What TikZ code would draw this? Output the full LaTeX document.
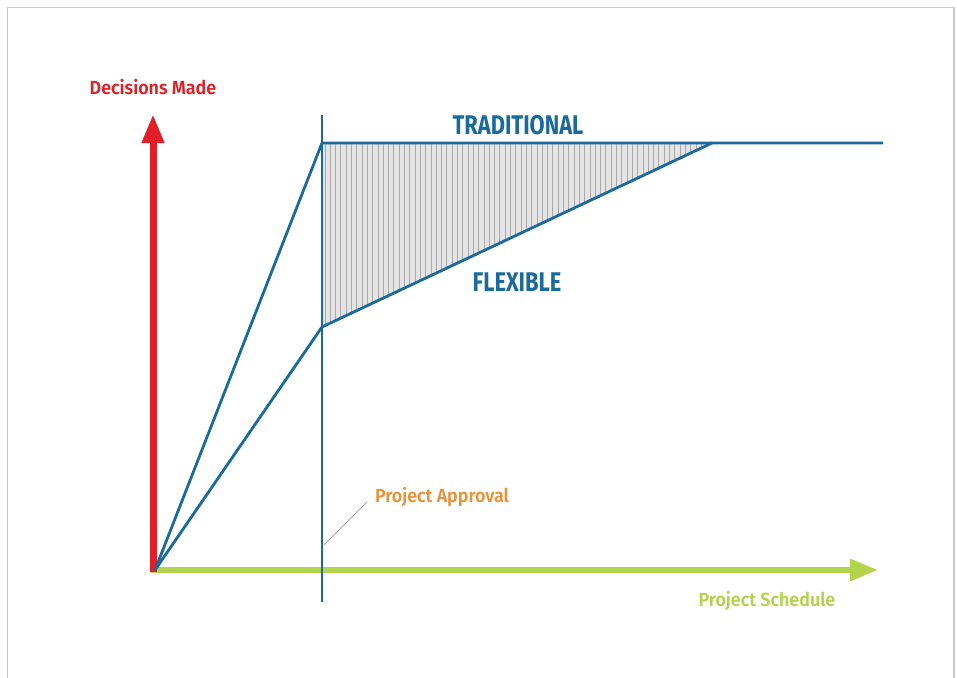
\documentclass[tikz,border=0pt]{standalone}
\usepackage{fontspec}
\setmainfont{Fira Sans}
\newfontfamily\labelfont[FakeStretch=0.94]{Fira Sans SemiBold}
\newfontfamily\curvefont[FakeStretch=0.81]{Fira Sans}
\usetikzlibrary{arrows.meta}

\definecolor{axisred}{HTML}{E31E26}
\definecolor{axisgreen}{HTML}{B2D34B}
\definecolor{curveblue}{HTML}{1A6A9C}
\definecolor{approvalorange}{HTML}{E8923A}
\definecolor{framegray}{HTML}{C9C9C9}
\definecolor{hatchfill}{HTML}{E4E4E4}
\definecolor{hatchline}{HTML}{A9A9A9}

\tikzset{
  curve/.style={draw=curveblue, line width=2.8pt, line join=round},
  axislabel/.style={font=\labelfont\fontsize{19}{21}\selectfont, inner sep=0pt},
  curvelabel/.style={font=\curvefont\bfseries\fontsize{27}{30}\selectfont, text=curveblue, inner sep=0pt},
}

\begin{document}
\begin{tikzpicture}[x=1pt,y=-1pt]
  \useasboundingbox (0,0) rectangle (957,677);
  \fill[white] (0,0) rectangle (957,677);
  % outer frame
  \draw[framegray, line width=1.6pt] (7.5,7.5) rectangle (954,700);

  % key points
  \coordinate (O) at (155,570);
  \coordinate (T) at (322,143);   % traditional: decisions at approval
  \coordinate (F) at (322,327);   % flexible: decisions at approval
  \coordinate (M) at (712,143);   % flexible meets traditional
  \coordinate (E) at (883,143);
  \coordinate (Vtop) at (322,115);
  \coordinate (Vbot) at (322,602);

  % hatched gap between the two curves
  \fill[hatchfill] (T) -- (M) -- (F) -- cycle;
  \begin{scope}
    \clip (T) -- (M) -- (F) -- cycle;
    \foreach \x in {325,330.3,...,712}
      \draw[hatchline, line width=0.9pt] (\x,140) -- (\x,330);
  \end{scope}

  % axes
  \coordinate (Ytip) at (153,114);
  \coordinate (Ybase) at (153,572);
  \coordinate (Xbase) at (151,570);
  \coordinate (Xtip) at (878,570);
  \draw[axisgreen, line width=6pt, -{Triangle[length=28pt,width=21pt]}] (Xbase) -- (Xtip);
  \draw[axisred, line width=7pt, -{Triangle[length=29pt,width=21pt]}] (Ybase) -- (Ytip);

  % project approval line
  \draw[curve] (Vtop) -- (Vbot);

  % curves
  \draw[curve] (O) -- (T) -- (E);
  \draw[curve] (O) -- (F) -- (M);

  % labels
  \node[axislabel, text=axisred] (ylab) at (153,87) {Decisions Made};
  \node[axislabel, text=axisgreen] (xlab) at (767,601) {Project Schedule};
  \node[axislabel, text=approvalorange] (alab) at (442,497) {Project Approval};
  \node[curvelabel] (trad) at (518,125) {TRADITIONAL};
  \node[curvelabel] (flex) at (517,282) {FLEXIBLE};

  % leader to the approval line
  \coordinate (Lfar) at (367,502);
  \coordinate (Lnear) at (324,545);
  \draw[hatchline, line width=1pt] (Lfar) -- (Lnear);
\end{tikzpicture}
\end{document}
